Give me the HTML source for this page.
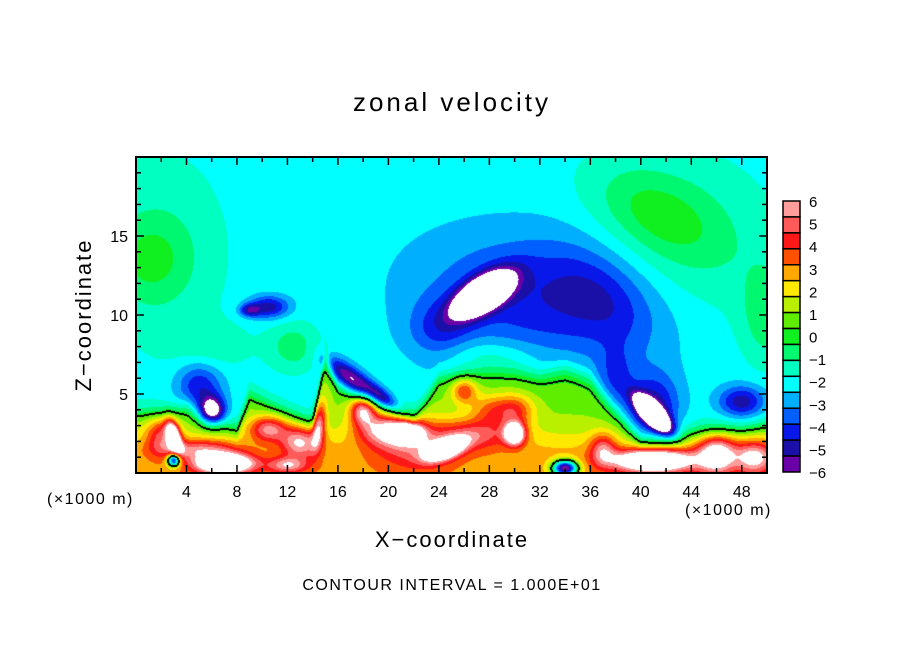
<!DOCTYPE html>
<html><head><meta charset="utf-8"><style>
html,body{margin:0;padding:0;background:#fff;}
#root{position:relative;width:904px;height:654px;overflow:hidden;font-family:"Liberation Sans",sans-serif;color:#000;}
.t{position:absolute;white-space:nowrap;}
</style></head><body>
<div id="root">
<div class="t" style="left:0;width:904px;text-align:center;top:87px;font-size:26px;letter-spacing:3px;">zonal velocity</div>
<canvas id="field" width="631" height="316" style="position:absolute;left:136px;top:157px;"></canvas>
<svg id="ov" width="904" height="654" style="position:absolute;left:0;top:0;"></svg>
<div class="t" style="left:47px;top:491px;font-size:16px;letter-spacing:1.5px;">(×1000 m)</div>
<div class="t" style="left:685px;top:502px;font-size:16px;letter-spacing:1.5px;">(×1000 m)</div>
<div class="t" style="left:0;width:904px;text-align:center;top:527px;font-size:22px;letter-spacing:2px;">X−coordinate</div>
<div class="t" style="left:84px;top:315px;font-size:22px;letter-spacing:2px;transform:translate(-50%,-50%) rotate(-90deg);">Z−coordinate</div>
<div class="t" style="left:0;width:904px;text-align:center;top:577px;font-size:16px;letter-spacing:1.5px;">CONTOUR INTERVAL = 1.000E+01</div>
</div>
<script>
const xTicks=[4,8,12,16,20,24,28,32,36,40,44,48];
const zTicks=[5,10,15];
const cbLabels=[6,5,4,3,2,1,0,-1,-2,-3,-4,-5,-6];
const cbColors=["#ff9c9c","#ff5a5a","#ff1818","#ff5000","#ffa800","#ffe800","#b8f000","#60ee00","#10f020","#00f870","#00ffc0","#00ffff","#00b0ff","#0060ff","#0818e8","#1a10a8","#6a00a8"];
const layerX=[0,2,4,6,8,9,10,12,14,15,16,18,20,22,24,26,28,30,32,34,36,38,40,42,44,46,48,50];
const layerTop=[3.8,3.6,4.2,3.5,2.6,5,4.6,3.8,3.0,7.5,5.5,4.5,4,3.2,6,6.3,6.5,6.5,6.2,6.6,6.0,4,2.0,2.0,2.4,2.5,2.6,3.0];
// blobs: x, z, sx, sz, amplitude, rotation(deg)
const blobX=[3,2,3,7,5,10.5,13,14.5,18,19.5,21.5,24.5,22,27,30,30,26,28,34,41,46,49,37,12,27.5,32,37,24,10.5,9,17,19.5,6,5,41,41,48,38,1,41,50,12.5,28,6,2,44];
const blobZ=[2.3,2.5,0.8,0.6,1.5,2.8,2,3,4,2.8,2.6,1.5,2,2.5,2.5,4,5.2,4,0.3,0.8,1.2,1,1.5,0.5,11.3,11,11,9,10.5,10.3,6,4.8,3.9,5.5,3.7,4,4.5,6,13.5,16.5,10,8,7.5,8,14,15];
const blobSX=[0.5,1.2,0.5,2.2,3,1.5,1.5,0.5,1,2,1.2,1.6,3,3,0.8,1.5,1,1.5,1,3,1.5,1.5,1,1.5,2.4,9,4.5,2.5,1.6,0.8,2.2,1.5,1,1.8,1.6,2,1.8,1.5,3,5,2,2,4,3,5,7];
const blobSZ=[1,1.2,0.4,0.6,0.6,0.8,1,1.5,0.9,1,0.6,0.6,1.5,1,0.7,1,0.8,1,0.5,0.7,1.2,1,1,0.5,1,4,2.5,2,0.7,0.4,0.7,0.5,0.9,1.5,0.6,2.2,1,2,2.5,2.5,3,1.5,1,1.5,6,5];
const blobAmp=[7,3,-8,8,3,4,4,4,5,4,6,7,3,3,7,3,3,2,-9,8,5,4,3,3,-9,-2.3,-1.2,-1.5,-3,-2.5,-4,-3,-5.5,-2.5,-10,-3,-3,-1.5,1.2,1.4,1.5,1.5,1,0.8,1.0,1.1];
const blobRot=[20,0,0,0,0,0,0,-10,0,0,0,15,0,0,0,0,0,0,0,0,0,0,0,0,25,-5,-30,0,0,0,-30,-30,0,0,-37,0,0,0,0,-20,0,0,0,0,0,-15];
const xMin=0,xMax=50,zMin=0,zMax=20,x0=136,x1=767,yTop=157,yBot=473;
const xs=v=>x0+(v-xMin)/(xMax-xMin)*(x1-x0);
const ys=v=>yBot-(v-zMin)/(zMax-zMin)*(yBot-yTop);
function layer(x){for(let i=0;i<layerX.length-1;i++){if(x<=layerX[i+1]){const t=(x-layerX[i])/(layerX[i+1]-layerX[i]);return layerTop[i]+t*(layerTop[i+1]-layerTop[i]);}}return layerTop[layerTop.length-1];}
const cosR=blobRot.map(r=>Math.cos(r*Math.PI/180)),sinR=blobRot.map(r=>Math.sin(r*Math.PI/180));
function field(x,z){
 const h=layer(x);
 let v=-2.1+3.1/(1+Math.exp(-(h-z)/0.35))+2.0/(1+Math.exp(-(2.2-z)/0.6));
 for(let i=0;i<blobX.length;i++){const dx=x-blobX[i],dz=z-blobZ[i];
  const u=(dx*cosR[i]+dz*sinR[i])/blobSX[i],w=(-dx*sinR[i]+dz*cosR[i])/blobSZ[i];
  v+=blobAmp[i]*Math.exp(-(u*u+w*w));}
 return v;}
function color(v){if(v>6||v<-6)return[255,255,255];let idx=Math.floor((6-v)/(12/cbColors.length));idx=Math.max(0,Math.min(cbColors.length-1,idx));const c=cbColors[idx];return[parseInt(c.substr(1,2),16),parseInt(c.substr(3,2),16),parseInt(c.substr(5,2),16)];}
(function(){
 const cv=document.getElementById('field'),ctx=cv.getContext('2d'),W=cv.width,H=cv.height;
 const img=ctx.createImageData(W,H),F=new Float32Array(W*H);
 for(let j=0;j<H;j++)for(let i=0;i<W;i++){const x=xMin+(i+0.5)/W*(xMax-xMin),z=zMax-(j+0.5)/H*(zMax-zMin);F[j*W+i]=field(x,z);}
 const th=0.2;
 for(let j=0;j<H;j++)for(let i=0;i<W;i++){const k=j*W+i;let c=color(F[k]);const a=F[k]>th;
  if((i+1<W&&(F[k+1]>th)!==a)||(j+1<H&&(F[k+W]>th)!==a)||(i>0&&(F[k-1]>th)!==a)||(j>0&&(F[k-W]>th)!==a))c=[0,0,0];
  img.data[4*k]=c[0];img.data[4*k+1]=c[1];img.data[4*k+2]=c[2];img.data[4*k+3]=255;}
 ctx.putImageData(img,0,0);
 const ov=document.getElementById('ov'),NS='http://www.w3.org/2000/svg';
 function mk(t,at){const e=document.createElementNS(NS,t);for(const k in at)e.setAttribute(k,at[k]);ov.appendChild(e);return e;}
 let e=mk('rect',{x:x0,y:yTop,width:x1-x0,height:yBot-yTop,fill:'none',stroke:'#000','stroke-width':2});
 
 
 for(let v=2;v<50;v+=2){const X=xs(v),L=(v%4===0)?8:5;
  e=mk('line',{x1:X,x2:X,y1:yBot,y2:yBot-L,stroke:'#000','stroke-width':1.5});
  
  
  e=mk('line',{x1:X,x2:X,y1:yTop,y2:yTop+L,stroke:'#000','stroke-width':1.5});
  
  }
 for(let v=1;v<20;v++){const Y=ys(v),L=(v%5===0)?8:5;
  e=mk('line',{x1:x0,x2:x0+L,y1:Y,y2:Y,stroke:'#000','stroke-width':1.5});
  
  
  e=mk('line',{x1:x1,x2:x1-L,y1:Y,y2:Y,stroke:'#000','stroke-width':1.5});
  
  }
 xTicks.forEach(v=>{e=mk('text',{x:xs(v),y:yBot+24,'text-anchor':'middle','font-size':16,'font-family':'Liberation Sans, sans-serif'});e.textContent=v;
  
  });
 zTicks.forEach(v=>{e=mk('text',{x:x0-8,y:ys(v)+6,'text-anchor':'end','font-size':16,'font-family':'Liberation Sans, sans-serif'});e.textContent=v;
  
  });
 const cbT=201,cbB=472,cbL=783,cbW=17,n=cbColors.length,bh=(cbB-cbT)/n;
 cbColors.forEach((c,i)=>{e=mk('rect',{x:cbL,y:cbT+i*bh,width:cbW,height:bh,fill:c,stroke:'#000','stroke-width':1.5});
  
  });
 cbLabels.forEach((v,i)=>{e=mk('text',{x:cbL+26,y:cbT+i*(cbB-cbT)/(cbLabels.length-1)+6,'font-size':15,'font-family':'Liberation Sans, sans-serif'});e.textContent=(v<0?'−'+(-v):v);
  
  });
})();
</script>
</body></html>
